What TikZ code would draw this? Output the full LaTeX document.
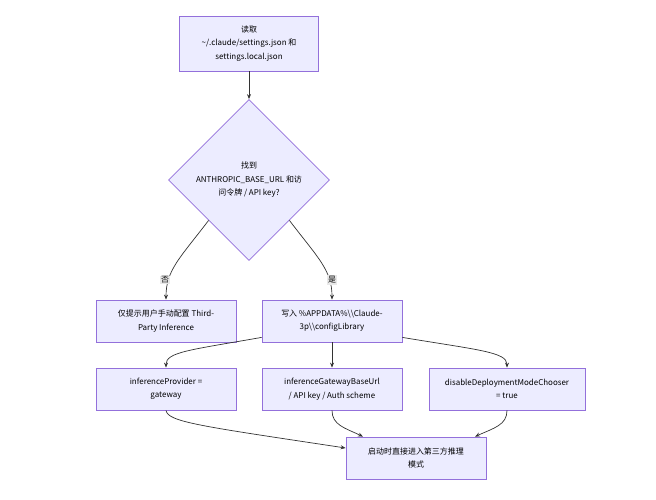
\documentclass[tikz,border=0pt]{standalone}
\usepackage{fontspec}
\setmainfont{Noto Sans CJK SC}
\usetikzlibrary{arrows.meta}
\usetikzlibrary{shapes.geometric}
\definecolor{boxfill}{HTML}{ECECFF}
\definecolor{boxline}{HTML}{9370DB}
\definecolor{edgeline}{HTML}{333333}

\begin{document}
\begin{tikzpicture}[x=1bp,y=-1bp,
    box/.style={draw=boxline,fill=boxfill,line width=0.8bp,align=center,inner sep=2bp,minimum width=140bp,minimum height=42bp,font=\fontsize{8}{13.5}\selectfont},
    choice/.style={diamond,aspect=1,draw=boxline,fill=boxfill,line width=0.8bp,align=center,inner sep=0pt,minimum width=161bp,minimum height=161bp,font=\fontsize{8}{13.5}\selectfont},
    flow/.style={draw=edgeline,line width=0.7bp,-{Stealth[length=5bp,width=4bp]}},
    ans/.style={fill=black!9,inner sep=1bp,font=\fontsize{8}{10}\selectfont}]
    \useasboundingbox(0,0)rectangle(656,500);

    \node[box,minimum width=139bp,minimum height=55bp](read)at(249,43.5){读取\\\textasciitilde/.claude/settings.json 和\\settings.local.json};
    \node[choice](find)at(249,180){找到\\ANTHROPIC\_BASE\_URL 和访\\问令牌 / API key?};
    \node[box](manual)at(166,321){仅提示用户手动配置 Third-\\Party Inference};
    \node[box](write)at(332,321){写入 \%APPDATA\%\textbackslash\textbackslash Claude-\\3p\textbackslash\textbackslash configLibrary};
    \node[box](provider)at(166,389){inferenceProvider =\\gateway};
    \node[box](gateway)at(332,389){inferenceGatewayBaseUrl\\/ API key / Auth scheme};
    \node[box,minimum width=156bp](disable)at(507,389){disableDeploymentModeChooser\\= true};
    \node[box](launch)at(416,458){启动时直接进入第三方推理\\模式};

    \draw[flow](read.south)--(find.north);
    \draw[flow](find.south west)..controls(180,258)and(166,270)..(manual.north);
    \draw[flow](find.south east)..controls(318,258)and(332,270)..(write.north);
    \node[ans](no)at(165,280){否};
    \node[ans](yes)at(332,280){是};

    \draw[flow]([yshift=5bp]write.south west)..controls(190,350)and(166,352)..(provider.north);
    \draw[flow](write.south)--(gateway.north);
    \draw[flow]([yshift=5bp]write.south east)..controls(478,350)and(507,352)..(disable.north);

    \draw[flow](provider.south)..controls(168,422)and(200,426)..([yshift=10bp]launch.west);
    \draw[flow](gateway.south)..controls(332,425)and(345,428)..([xshift=-53bp]launch.north);
    \draw[flow](disable.south)..controls(507,425)and(494,428)..([xshift=59bp]launch.north);
\end{tikzpicture}
\end{document}
